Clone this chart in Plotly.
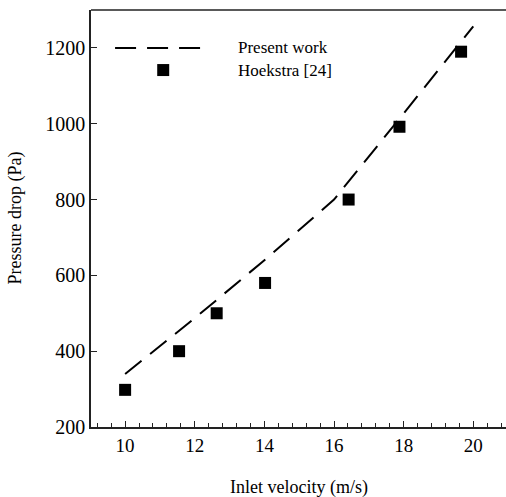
import plotly.graph_objects as go

# Data
present_velocity = [10, 12, 14, 16, 18, 20]
present_dp = [340, 487, 640, 800, 1027, 1257]

hoekstra_velocity = [10.0, 11.55, 12.63, 14.02, 16.42, 17.88, 19.65]
hoekstra_dp = [298, 400, 500, 580, 800, 992, 1190]

x_ticks = [10, 12, 14, 16, 18, 20]
y_ticks = [200, 400, 600, 800, 1000, 1200]

FONT = "'Liberation Serif', 'Times New Roman', Times, serif"
INK = "#222222"

fig = go.Figure()
fig.add_trace(go.Scatter(
    x=present_velocity, y=present_dp, mode="lines", name="Present work",
    line=dict(color="black", width=2, dash="21px,11px"), showlegend=False))
fig.add_trace(go.Scatter(
    x=hoekstra_velocity, y=hoekstra_dp, mode="markers", name="Hoekstra [24]",
    marker=dict(symbol="square", size=12, color="black"), showlegend=False))

# Manual legend
fig.add_shape(type="line", xref="paper", yref="paper", x0=0.058, x1=0.268,
              y0=0.909, y1=0.909, line=dict(color="black", width=2, dash="21px,11px"))
fig.add_trace(go.Scatter(x=[0.174], y=[0.856], xaxis="x2", yaxis="y2", mode="markers",
                         marker=dict(symbol="square", size=12, color="black"),
                         showlegend=False, hoverinfo="skip"))
fig.add_annotation(text="Present work", xref="paper", yref="paper", x=0.349, y=0.909,
                   xanchor="left", yanchor="middle", showarrow=False,
                   font=dict(family=FONT, size=17, color="black"))
fig.add_annotation(text="Hoekstra [24]", xref="paper", yref="paper", x=0.349, y=0.856,
                   xanchor="left", yanchor="middle", showarrow=False,
                   font=dict(family=FONT, size=17, color="black"))

# Top frame line
fig.add_shape(type="line", xref="paper", yref="paper", x0=0, x1=1, y0=1, y1=1,
              line=dict(color=INK, width=1.5))

# Axis titles
fig.add_annotation(text="Inlet velocity (m/s)", xref="paper", yref="paper",
                   x=0.5, y=-0.144, xanchor="center", yanchor="middle", showarrow=False,
                   font=dict(family=FONT, size=18, color="black"))
fig.add_annotation(text="Pressure drop (Pa)", xref="paper", yref="paper",
                   x=-0.183, y=0.5, xanchor="center", yanchor="middle", showarrow=False,
                   textangle=-90, font=dict(family=FONT, size=18, color="black"))

fig.update_layout(
    width=506, height=497,
    margin=dict(l=91, r=0, t=10, b=70),
    paper_bgcolor="white", plot_bgcolor="white",
    font=dict(family=FONT, size=18, color="black"),
    xaxis=dict(range=[9.02, 20.94], tickvals=x_ticks, ticks="inside", ticklen=6,
               tickwidth=1.3, tickcolor=INK, showline=True, linecolor=INK, linewidth=1.5,
               showgrid=False, zeroline=False,
               tickfont=dict(family=FONT, size=19),
               minor=dict(dtick=0.4, tick0=10, ticks="inside", ticklen=4,
                          tickwidth=1, tickcolor=INK, showgrid=False)),
    yaxis=dict(range=[200, 1300], tickvals=y_ticks, ticks="inside", ticklen=6,
               tickwidth=1.3, tickcolor=INK, showline=True, linecolor=INK, linewidth=1.5,
               showgrid=False, zeroline=False, ticksuffix=" ",
               tickfont=dict(family=FONT, size=20)),
    xaxis2=dict(range=[0, 1], overlaying="x", visible=False),
    yaxis2=dict(range=[0, 1], overlaying="y", visible=False),
)

fig.write_html("out.html", config={"displayModeBar": False},
               post_script="document.body.style.margin='0';")
